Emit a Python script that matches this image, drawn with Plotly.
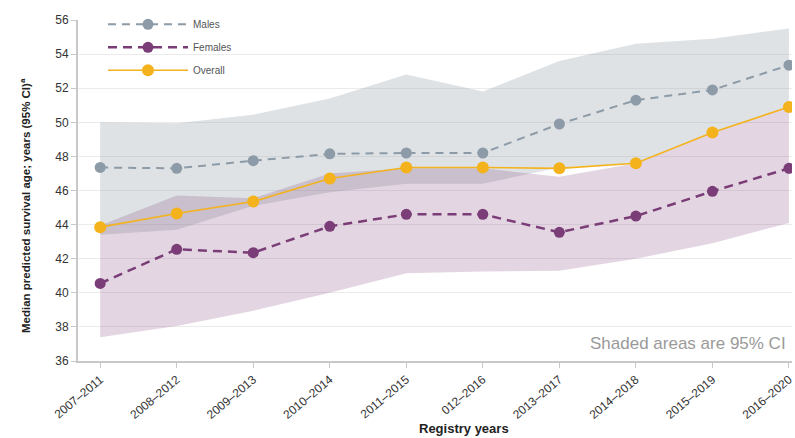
import plotly.graph_objects as go

# Registry periods (rolling five-year windows)
periods = ["2007–2011", "2008–2012", "2009–2013", "2010–2014", "2011–2015",
           "012–2016", "2013–2017", "2014–2018", "2015–2019", "2016–2020"]

# Median predicted survival age (years)
males = [47.35, 47.3, 47.75, 48.15, 48.2, 48.2, 49.9, 51.3, 51.9, 53.35]
females = [40.55, 42.55, 42.35, 43.9, 44.6, 44.6, 43.55, 44.5, 45.95, 47.3]
overall = [43.85, 44.65, 45.35, 46.7, 47.35, 47.35, 47.3, 47.6, 49.4, 50.9]

# 95% confidence intervals
males_lo = [43.4, 43.7, 45.1, 45.9, 46.4, 46.4, 47.35, 47.6, 49.4, 50.9]
males_hi = [50.0, 49.95, 50.45, 51.4, 52.8, 51.8, 53.6, 54.6, 54.9, 55.5]
females_lo = [37.4, 38.05, 38.95, 40.0, 41.15, 41.25, 41.3, 42.0, 42.9, 44.1]
females_hi = [43.95, 45.7, 45.55, 47.0, 47.3, 47.3, 46.8, 47.6, 49.4, 50.9]

y_ticks = [36, 38, 40, 42, 44, 46, 48, 50, 52, 54, 56]

GREY = "#8c9ba7"
PURPLE = "#7a3d77"
AMBER = "#f4b21c"
FONT = "Liberation Sans, Arial, sans-serif"

fig = go.Figure()

# confidence bands
fig.add_trace(go.Scatter(x=periods, y=males_lo, mode="lines", line=dict(width=0),
                         showlegend=False, hoverinfo="skip"))
fig.add_trace(go.Scatter(x=periods, y=males_hi, mode="lines", line=dict(width=0),
                         fill="tonexty", fillcolor="rgba(140,155,167,0.29)",
                         showlegend=False, hoverinfo="skip"))
fig.add_trace(go.Scatter(x=periods, y=females_lo, mode="lines", line=dict(width=0),
                         showlegend=False, hoverinfo="skip"))
fig.add_trace(go.Scatter(x=periods, y=females_hi, mode="lines", line=dict(width=0),
                         fill="tonexty", fillcolor="rgba(122,61,119,0.21)",
                         showlegend=False, hoverinfo="skip"))

# median lines
fig.add_trace(go.Scatter(x=periods, y=males, name="Males", mode="lines+markers",
                         line=dict(color=GREY, width=2, dash="8px,6px"),
                         marker=dict(color=GREY, size=11), legendgroup="m"))
fig.add_trace(go.Scatter(x=periods, y=females, name="Females", mode="lines+markers",
                         line=dict(color=PURPLE, width=2.5, dash="9px,6px"),
                         marker=dict(color=PURPLE, size=11), legendgroup="f"))
fig.add_trace(go.Scatter(x=periods, y=overall, name="Overall", mode="lines+markers",
                         line=dict(color=AMBER, width=1.6),
                         marker=dict(color=AMBER, size=12), legendgroup="o"))

fig.add_annotation(text="Shaded areas are 95% CI", xref="paper", yref="paper",
                   x=0.714, y=0.05, xanchor="left", yanchor="middle", showarrow=False,
                   font=dict(family=FONT, size=17, color="#9a9a9a"))
fig.add_annotation(text="<b>Registry years</b>", xref="paper", yref="paper",
                   x=0.54, y=-0.197, xanchor="center", yanchor="middle",
                   showarrow=False, font=dict(family=FONT, size=13, color="#222"))
fig.add_annotation(text="<b>Median predicted survival age; years (95% CI)<sup>a</sup></b>",
                   xref="paper", yref="paper", x=-0.074, y=0.455, textangle=-90,
                   xanchor="center", yanchor="middle", showarrow=False,
                   font=dict(family=FONT, size=11.5, color="#222"))

fig.update_layout(
    width=795, height=438,
    margin=dict(l=78, r=0, t=20, b=77),
    paper_bgcolor="white", plot_bgcolor="white",
    font=dict(family=FONT, size=12, color="#333"),
    legend=dict(x=0.035, y=1.03, xanchor="left", yanchor="top",
                bgcolor="rgba(0,0,0,0)", itemwidth=80, tracegroupgap=4,
                font=dict(size=10, color="#555")),
    xaxis=dict(range=[-0.29, 9.04], showgrid=False, showline=True, linecolor="#c8c8c8",
               linewidth=2, ticks="outside", ticklen=5, tickcolor="#c8c8c8",
               tickangle=-40, tickfont=dict(size=12, color="#333")),
    yaxis=dict(range=[36, 56], tickvals=y_ticks, showgrid=True, gridcolor="#ebebeb",
               showline=True, linecolor="#c8c8c8", linewidth=2, ticks="outside",
               ticklen=5, tickcolor="#c8c8c8", zeroline=False,
               tickfont=dict(size=12, color="#333")),
)

fig.write_html("out.html")
